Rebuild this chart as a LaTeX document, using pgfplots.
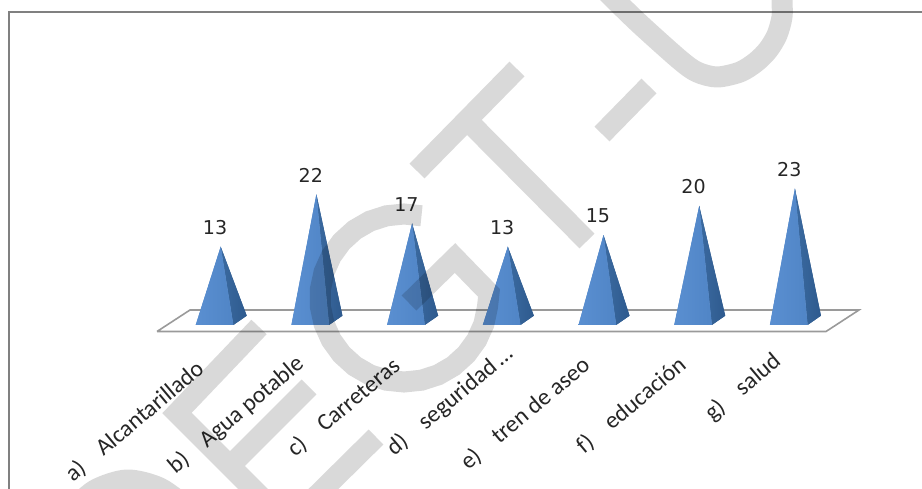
\documentclass[border=0pt]{standalone}
\usepackage{pgfplots}
\pgfplotsset{compat=1.18}
\usepackage{pgfplotstable}
\usepackage{fontspec}
\setmainfont{Carlito}
\newfontfamily\numfont{DejaVu Sans}
\definecolor{wm}{HTML}{D9D9D9}
\definecolor{frameg}{HTML}{808080}
\definecolor{platg}{HTML}{9A9A9A}
\definecolor{fa}{HTML}{5A8FD1}
\definecolor{fb}{HTML}{5085C6}
\definecolor{sa}{HTML}{3B6AA0}
\definecolor{sb}{HTML}{2E5A8E}
\pgfplotstableread{
i v
0 13
1 22
2 17
3 13
4 15
5 20
6 23
}\datatab
\pgfplotsset{
  base/.style={scale only axis,width=691.5pt,height=366.75pt,axis lines=none,ticks=none,
    at={(0,0)},anchor=south west},
  px/.style={base,xmin=0,xmax=922,ymin=0,ymax=489,y dir=reverse},
  front/.style={draw=none,fill=fb,left color=fa,right color=fb},
  side/.style={draw=none,fill=sb,left color=sa,right color=sb},
  wmk/.style={no marks,wm,line width=15.75pt,line cap=butt,line join=round,
    unbounded coords=jump,forget plot,blend mode=multiply},
}
\tikzset{lab/.style={rotate=40,anchor=east,inner sep=0pt,text=black!85,font=\fontsize{17.8}{20}\selectfont}}
\newcommand{\gap}{\hspace{0.9em}}
\begin{document}
\begin{tikzpicture}
% frame and platform
\begin{axis}[px]
\path (rel axis cs:0,0) rectangle (rel axis cs:1,1);
\addplot[no marks,frameg,line width=1.5pt] coordinates {(9,489) (9,12) (922,12)};
\addplot[no marks,platg,line width=1.2pt,line join=miter] coordinates {(157,331.5) (190,310) (859,310) (826,331.5) (157,331.5)};
\end{axis}
% pyramids: x = category index, y = value
\begin{axis}[base,xmin=-2.306,xmax=7.328,ymin=-28.625,ymax=55.395,clip=false]
\addplot[side]  coordinates {(0,13) (0.132,-0.447) (0.272,1.15)};
\addplot[front] coordinates {(0,13) (-0.261,-0.447) (0.132,-0.447)};
\addplot[side]  coordinates {(1,22) (1.132,-0.447) (1.272,1.15)};
\addplot[front] coordinates {(1,22) (0.739,-0.447) (1.132,-0.447)};
\addplot[side]  coordinates {(2,17) (2.132,-0.447) (2.272,1.15)};
\addplot[front] coordinates {(2,17) (1.739,-0.447) (2.132,-0.447)};
\addplot[side]  coordinates {(3,13) (3.132,-0.447) (3.272,1.15)};
\addplot[front] coordinates {(3,13) (2.739,-0.447) (3.132,-0.447)};
\addplot[side]  coordinates {(4,15) (4.132,-0.447) (4.272,1.15)};
\addplot[front] coordinates {(4,15) (3.739,-0.447) (4.132,-0.447)};
\addplot[side]  coordinates {(5,20) (5.132,-0.447) (5.272,1.15)};
\addplot[front] coordinates {(5,20) (4.739,-0.447) (5.132,-0.447)};
\addplot[side]  coordinates {(6,23) (6.132,-0.447) (6.272,1.15)};
\addplot[front] coordinates {(6,23) (5.739,-0.447) (6.132,-0.447)};
\addplot[draw=none,no marks,nodes near coords,
  nodes near coords style={anchor=center,inner sep=0pt,xshift=-4.2pt,yshift=14.2pt,
    font=\numfont\fontsize{14.3}{16}\selectfont,text=black!85,
    /pgf/number format/assume math mode=true}]
  table[x=i,y=v] {\datatab};
\end{axis}
% labels and watermark
\begin{axis}[px]
\node[lab] at (axis cs:201,366) {a)\gap Alcantarillado};
\node[lab] at (axis cs:301,361) {b)\gap Agua potable};
\node[lab] at (axis cs:397,363) {c)\gap Carreteras};
\node[lab] at (axis cs:510,351) {d)\gap seguridad\,\dots};
\node[lab] at (axis cs:587,362) {e)\gap tren de aseo};
\node[lab] at (axis cs:683,362) {f)\gap educación};
\node[lab] at (axis cs:778,358) {g)\gap salud};
% E
\addplot[wmk,line join=miter] coordinates {(259,327) (177,413) (288,524) (376,437) (nan,nan) (309,387) (230,466)};
% R remnant
\addplot[wmk,smooth] coordinates {(70,512) (95,490) (127,480) (160,488) (190,510)};
% G
\addplot[wmk,line join=miter] coordinates {(421.5,215.8) (404,214) (386.5,215.8) (369.8,221.2) (354.6,230) (341.6,241.8) (331.3,256) (324.1,272) (320.4,289.2) (320.4,306.8) (324.1,324) (331.3,340) (341.6,354.2) (354.6,366) (369.8,374.8) (386.5,380.2) (404,382) (421.5,380.2) (438.2,374.8) (453.4,366) (466.4,354.2) (476.7,340) (483.9,324) (487.5,306.8) (489,293) (455,258) (409,303)};
% T
\addplot[wmk] coordinates {(517,69) (417,171) (nan,nan) (467,120) (587,241)};
% dash
\addplot[wmk] coordinates {(649,86) (602,134)};
% U
\addplot[wmk,smooth,tension=0.5] coordinates {(782,-20) (782,0) (782,17) (777,35) (768,50) (756,62) (740,72) (717,77) (697,72) (680,60) (643,27) (620,5) (600,-15)};
\end{axis}
\end{tikzpicture}
\end{document}
